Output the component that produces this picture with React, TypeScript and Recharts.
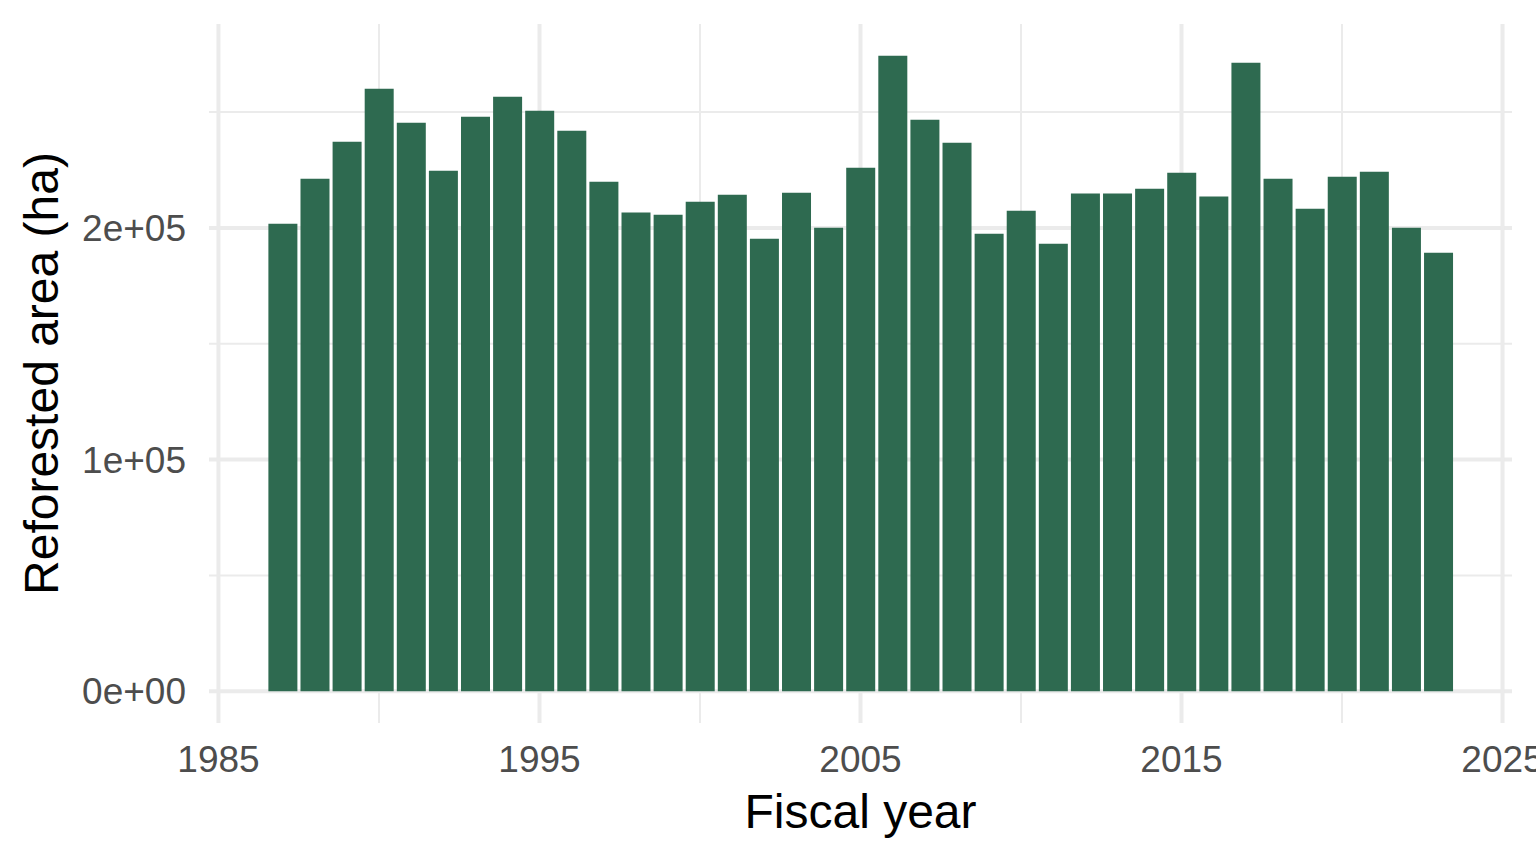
import { Bar, CartesianGrid, ComposedChart, Label, XAxis, YAxis } from 'recharts'

// reforested area by fiscal year
const years = [
  1987, 1988, 1989, 1990, 1991, 1992, 1993, 1994, 1995, 1996, 1997, 1998, 1999,
  2000, 2001, 2002, 2003, 2004, 2005, 2006, 2007, 2008, 2009, 2010, 2011, 2012,
  2013, 2014, 2015, 2016, 2017, 2018, 2019, 2020, 2021, 2022, 2023,
]
const reforestedHa = [
  201800, 221200, 237200, 260100, 245400, 224700, 248000, 256600, 250600, 241900,
  219900, 206600, 205700, 211300, 214300, 195300, 215200, 200100, 226000, 274300,
  246700, 236800, 197500, 207400, 193200, 214800, 214800, 216900, 223800, 213500,
  271300, 221200, 208300, 222100, 224200, 200100, 189300,
]

const xTicks = [1985, 1995, 2005, 2015, 2025]
const xMinorTicks = [1990, 2000, 2010, 2020]
const yTicks = [0, 100000, 200000]
const yTickLabels = ['0e+00', '1e+05', '2e+05']
const yMinorTicks = [50000, 150000, 250000]

const data = years.map((year, i) => ({ year, area: reforestedHa[i] }))

// ggplot-style 5% expansion around the bars (bar width 0.9 of a year)
const halfBar = 0.45
const xLo = years[0] - halfBar
const xHi = years[years.length - 1] + halfBar
const xPad = (xHi - xLo) * 0.05
const yMax = Math.max(...reforestedHa)
const yPad = yMax * 0.05

const GRID = '#EBEBEB'
const BAR = '#2E6A50'
const TICK = '#4D4D4D'
const FONT = '"Liberation Sans", Arial, Helvetica, sans-serif'

const YTitle = (props: any) => {
  const vb = props.viewBox || { x: 0, y: 0, width: 0, height: 0 }
  const x = vb.x + 58
  const y = vb.y + vb.height / 2
  return (
    <text
      x={x}
      y={y}
      transform={`rotate(-90, ${x}, ${y})`}
      textAnchor="middle"
      fill="#000"
      fontSize={48}
    >
      Reforested area (ha)
    </text>
  )
}

export default function App() {
  return (
    <div style={{ position: 'absolute', left: 0, top: 0, fontFamily: FONT }}>
      <ComposedChart
        width={1536}
        height={864}
        data={data}
        margin={{ top: 24, right: 24, bottom: 0, left: 0 }}
        barCategoryGap="5.5%"
      >
        {/* minor grid first, thinner, then the major grid at the axis ticks */}
        <CartesianGrid
          stroke={GRID}
          strokeWidth={2}
          horizontalValues={yMinorTicks}
          verticalValues={xMinorTicks}
          syncWithTicks
        />
        <CartesianGrid stroke={GRID} strokeWidth={4} syncWithTicks />
        <XAxis
          dataKey="year"
          type="number"
          domain={[xLo - xPad, xHi + xPad]}
          ticks={xTicks}
          interval={0}
          allowDataOverflow
          axisLine={false}
          tickLine={false}
          tickSize={0}
          tickMargin={23}
          height={141}
          tick={{ fill: TICK, fontSize: 37 }}
        >
          <Label value="Fiscal year" position="insideBottom" offset={36} fill="#000" fontSize={48} />
        </XAxis>
        <YAxis
          type="number"
          domain={[-yPad, yMax + yPad]}
          ticks={yTicks}
          interval={0}
          allowDataOverflow
          axisLine={false}
          tickLine={false}
          tickSize={0}
          tickMargin={23}
          width={209}
          tick={{ fill: TICK, fontSize: 37 }}
          tickFormatter={(v: number) => yTickLabels[yTicks.indexOf(v)] ?? String(v)}
          label={{ content: YTitle }}
        />
        <Bar dataKey="area" fill={BAR} isAnimationActive={false} />
      </ComposedChart>
    </div>
  )
}
